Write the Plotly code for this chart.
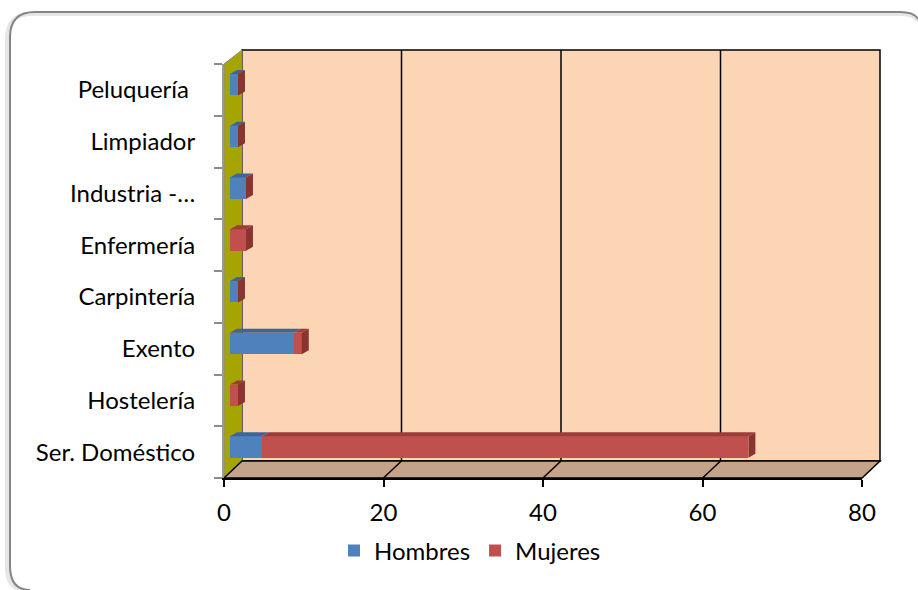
import plotly.graph_objects as go

# Datos: personas por profesión y sexo
categorias = ["Ser. Doméstico", "Hostelería", "Exento", "Carpintería",
              "Enfermería", "Industria -…", "Limpiador", "Peluquería "]
hombres = [4, 0, 8, 1, 0, 2, 1, 1]
mujeres = [61, 1, 1, 0, 2, 0, 0, 0]
ticks_x = [0, 20, 40, 60, 80]
x_max = 80

# Colores
AZUL, AZUL_TOP = "#4F81BD", "#3C6698"
ROJO, ROJO_TOP, ROJO_LADO = "#C0504D", "#9C3D3A", "#8A3432"
PARED_FONDO, PARED_IZQ, SUELO = "#FCD5B5", "#A6A400", "#C4A38A"
FUENTE = "Lato"

W, H = 918, 590


def px(x):
    return x / W


def py(y):
    return 1 - y / H


# Geometría de la caja 3D (en píxeles)
FX0, FX1, FY = 224, 862, 478          # eje frontal
BX0, BY_TOP, BY_BOT = 242, 50, 461    # pared del fondo
BX1 = BX0 + (FX1 - FX0)
ESCALA = (FX1 - FX0) / x_max
LAB_TOP = 64

BAR_X0 = 230
BAR_X1 = BAR_X0 + x_max * ESCALA
C_FIRST, C_LAST = 447, 84.7
paso = (C_FIRST - C_LAST) / (len(categorias) - 1)
BAR_BOT = C_FIRST + paso / 2
BAR_TOPPX = C_LAST - paso / 2
ANCHO = 0.415
PROF_X, PROF_Y = 7, 4
dxu = PROF_X / ESCALA
dyu = PROF_Y / paso

pos = list(range(len(categorias)))

fig = go.Figure()
fig.add_trace(go.Bar(y=pos, x=hombres, orientation="h", name="Hombres",
                     marker=dict(color=AZUL, line=dict(width=0)), width=ANCHO))
fig.add_trace(go.Bar(y=pos, x=mujeres, orientation="h", name="Mujeres",
                     marker=dict(color=ROJO, line=dict(width=0)), width=ANCHO))

# Caras superiores y laterales de las barras (efecto 3D)
def cara_superior(inicios, finales):
    xs, ys = [], []
    for c, a, b in zip(pos, inicios, finales):
        if b - a <= 0:
            continue
        yt = c + ANCHO / 2
        xs += [a, b, b + dxu, a + dxu, a, None]
        ys += [yt, yt, yt + dyu, yt + dyu, yt, None]
    return xs, ys


fin_h = hombres
fin_m = [h + m for h, m in zip(hombres, mujeres)]
for (ini, fin, col) in [([0] * len(pos), fin_h, AZUL_TOP), (fin_h, fin_m, ROJO_TOP)]:
    xs, ys = cara_superior(ini, fin)
    fig.add_trace(go.Scatter(x=xs, y=ys, mode="lines", fill="toself",
                             fillcolor=col, line=dict(width=0),
                             hoverinfo="skip", showlegend=False))

xs, ys = [], []
for c, t in zip(pos, fin_m):
    yb, yt = c - ANCHO / 2, c + ANCHO / 2
    xs += [t, t + dxu, t + dxu, t, t, None]
    ys += [yb, yb + dyu, yt + dyu, yt, yb, None]
fig.add_trace(go.Scatter(x=xs, y=ys, mode="lines", fill="toself",
                         fillcolor=ROJO_LADO, line=dict(width=0),
                         hoverinfo="skip", showlegend=False))

# Traza transparente que activa el eje frontal y el de categorías
fig.add_trace(go.Scatter(x=[0] * len(pos), y=pos, xaxis="x2", yaxis="y2",
                         mode="markers", marker=dict(opacity=0),
                         hoverinfo="skip", showlegend=False))


def ruta(puntos, cerrar=True):
    s = "M" + " L".join(f"{px(x):.5f},{py(y):.5f}" for x, y in puntos)
    return s + (" Z" if cerrar else "")


shapes = []


# Marco redondeado (abierto por la derecha y por abajo, dentro del lienzo)
def marco(dx, dy):
    l, t = 10 + dx, 12 + dy
    return (f"M{px(30 + dx):.5f},{py(590):.5f} "
            f"Q{px(l):.5f},{py(590):.5f} {px(l):.5f},{py(566 + dy):.5f} "
            f"L{px(l):.5f},{py(t + 25):.5f} "
            f"Q{px(l):.5f},{py(t):.5f} {px(l + 25):.5f},{py(t):.5f} "
            f"L{px(900):.5f},{py(t):.5f} "
            f"Q{px(914):.5f},{py(t):.5f} {px(918):.5f},{py(t + 7):.5f}")


shapes.append(dict(type="path", xref="paper", yref="paper", path=marco(-3, 2),
                   fillcolor="rgba(0,0,0,0)",
                   line=dict(color="#E6E6E6", width=4), layer="below"))
shapes.append(dict(type="path", xref="paper", yref="paper", path=marco(0, 0),
                   fillcolor="rgba(0,0,0,0)",
                   line=dict(color="#858585", width=2), layer="below"))

# Pared del fondo
shapes.append(dict(type="rect", xref="paper", yref="paper",
                   x0=px(BX0), x1=px(BX1), y0=py(BY_BOT), y1=py(BY_TOP),
                   fillcolor=PARED_FONDO, line=dict(color="black", width=1.5),
                   layer="below"))
# Pared izquierda
shapes.append(dict(type="path", xref="paper", yref="paper",
                   path=ruta([(FX0, LAB_TOP), (BX0, BY_TOP), (BX0, BY_BOT), (FX0, FY)]),
                   fillcolor=PARED_IZQ, line=dict(color="#8C8C8C", width=1),
                   layer="below"))
# Suelo
shapes.append(dict(type="path", xref="paper", yref="paper",
                   path=ruta([(FX0, FY), (BX0, BY_BOT), (BX1, BY_BOT), (FX1, FY)]),
                   fillcolor=SUELO, line=dict(color="black", width=1.5),
                   layer="below"))
# Líneas de división verticales y diagonales del suelo
for v in ticks_x[1:-1]:
    xb = BX0 + v * ESCALA
    xf = FX0 + v * ESCALA
    shapes.append(dict(type="line", xref="paper", yref="paper",
                       x0=px(xb), x1=px(xb), y0=py(BY_BOT), y1=py(BY_TOP),
                       line=dict(color="black", width=1.5), layer="below"))
    shapes.append(dict(type="line", xref="paper", yref="paper",
                       x0=px(xf), x1=px(xb), y0=py(FY), y1=py(BY_BOT),
                       line=dict(color="black", width=1.5), layer="below"))

fig.update_layout(
    width=W, height=H,
    margin=dict(l=0, r=0, t=0, b=0, autoexpand=False),
    paper_bgcolor="white", plot_bgcolor="rgba(0,0,0,0)",
    barmode="stack",
    font=dict(family=FUENTE, size=24, color="black"),
    shapes=shapes,
    showlegend=True,
    legend=dict(orientation="h", x=px(470), xanchor="center",
                y=py(551), yanchor="middle", traceorder="normal",
                font=dict(family=FUENTE, size=24, color="black"),
                bgcolor="rgba(0,0,0,0)", itemwidth=30),
    # ejes de las barras (sin marcas visibles)
    xaxis=dict(domain=[px(BAR_X0), px(BAR_X1)], range=[0, x_max],
               visible=False, fixedrange=True),
    yaxis=dict(domain=[py(BAR_BOT), py(BAR_TOPPX)], range=[-0.5, len(pos) - 0.5],
               visible=False, fixedrange=True),
    # eje frontal con las etiquetas
    xaxis2=dict(domain=[px(FX0), px(FX1)], range=[0, x_max], anchor="y2",
                tickmode="array", tickvals=ticks_x, automargin=False,
                ticks="outside", ticklen=7, tickwidth=1.5, tickcolor="black",
                showline=True, linecolor="black", linewidth=1.5,
                showgrid=False, zeroline=False, ticklabelstandoff=5,
                tickfont=dict(family=FUENTE, size=24, color="black")),
    yaxis2=dict(domain=[py(FY), py(LAB_TOP)], range=[-0.5, len(pos) - 0.5],
                anchor="x2", tickmode="array", tickvals=pos, ticktext=categorias,
                ticks="", showline=True, linecolor="#9A9A9A", linewidth=2,
                showgrid=False, zeroline=False, ticklabelstandoff=22,
                automargin=False,
                minor=dict(tickmode="array",
                           tickvals=[p - 0.5 for p in pos] + [pos[-1] + 0.5],
                           ticks="outside", ticklen=8, tickwidth=1.5,
                           tickcolor="#8C8C8C"),
                tickfont=dict(family=FUENTE, size=24, color="black")),
)

fig.write_html("out.html")
